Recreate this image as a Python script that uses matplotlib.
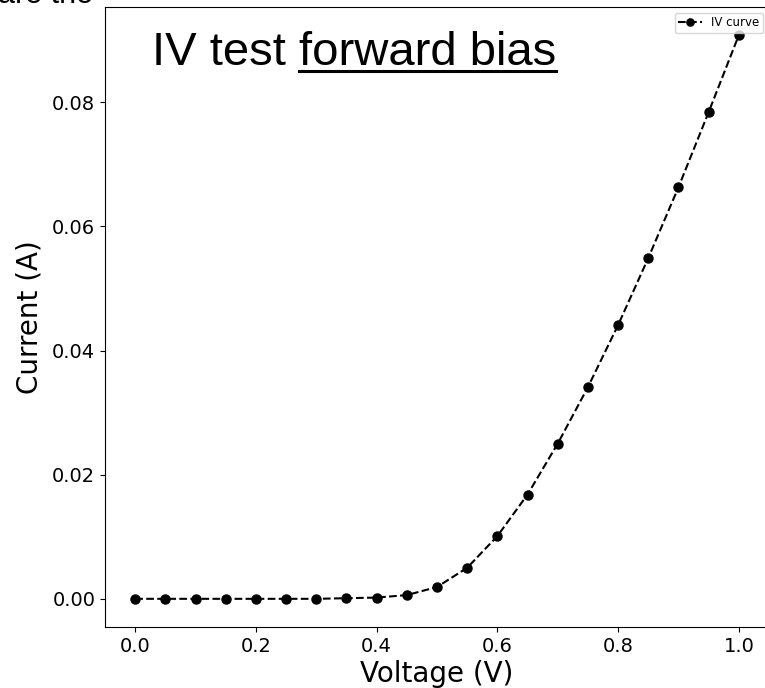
import matplotlib
matplotlib.use("Agg")
import matplotlib.pyplot as plt
from matplotlib.lines import Line2D

# measured IV points (forward bias)
voltage = [0.0, 0.05, 0.1, 0.15, 0.2, 0.25, 0.3, 0.35, 0.4, 0.45, 0.5,
           0.55, 0.6, 0.65, 0.7, 0.75, 0.8, 0.85, 0.9, 0.95, 1.0]
current = [0.0, 0.0, 0.0, 0.0, 0.0, 0.0, 0.0, 0.0001, 0.0002, 0.0006, 0.0019,
           0.0050, 0.0101, 0.0168, 0.0250, 0.0341, 0.0441, 0.0549, 0.0663, 0.0784, 0.0908]

fig = plt.figure(figsize=(7.65, 6.88), dpi=100)
# axes runs a little past the right edge, like the cropped original
ax = fig.add_axes([105/765, 61/688, 664/765, 620/688])

ax.plot(voltage, current, "k--o", lw=1.5, ms=6.5, label="IV curve")

ax.set_xlabel("Voltage (V)", fontsize=20, labelpad=3)
ax.set_ylabel("Current (A)", fontsize=20, labelpad=6)
ax.tick_params(labelsize=14)

ax.legend(loc="upper right", fontsize=8.5, handlelength=2.0, borderpad=0.3,
          borderaxespad=0.5, markerscale=0.8)

# title inside axes, with the second part underlined
tfam = "Liberation Sans"
t = ax.text(0.071, 0.906, "IV test forward bias", transform=ax.transAxes,
            fontsize=34, family=tfam, va="baseline")
fig.text(-0.002, 1 - 3/688, "are the", fontsize=22, family=tfam, va="baseline")

fig.canvas.draw()
r = fig.canvas.get_renderer()
full = t.get_window_extent(r)
part = ax.text(0, 0, "forward bias", fontsize=34, family=tfam)
pw = part.get_window_extent(r).width
part.remove()
base = ax.transAxes.transform((0, 0.906))[1]
uy = base - 6
fig.add_artist(Line2D([(full.x1 - pw) / 765, full.x1 / 765], [uy / 688, uy / 688],
                      transform=fig.transFigure, color="k", lw=2.2))

fig.savefig("out.png", dpi=100)
